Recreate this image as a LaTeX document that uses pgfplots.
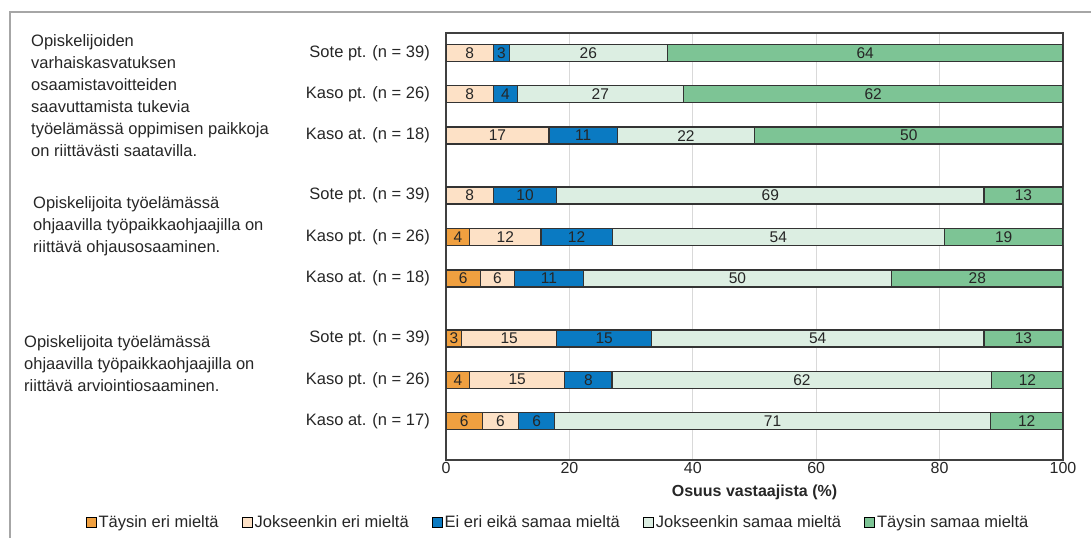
\documentclass[border=0pt]{standalone}
\usepackage{pgfplots}
\usepackage{pgfplotstable}
\pgfplotsset{compat=1.18}
\usepackage{fontspec}
\setmainfont{Liberation Sans}

\definecolor{cTE}{HTML}{F0A040}
\definecolor{cJE}{HTML}{FDE1C6}
\definecolor{cEE}{HTML}{0A7AC2}
\definecolor{cJS}{HTML}{DCEEE2}
\definecolor{cTS}{HTML}{7DC495}
\definecolor{framegray}{HTML}{A6A6A6}
\definecolor{txt}{HTML}{262626}

% shares (%) of each answer, one row per bar; l1..l5 are the printed labels
\pgfplotstableread{
y     v1    v2    v3    v4    v5    l1 l2 l3 l4 l5
0     0     7.69  2.56  25.64 64.10 {} 8  3  26 64
1     0     7.69  3.85  26.92 61.54 {} 8  4  27 62
2     0     16.67 11.11 22.22 50.00 {} 17 11 22 50
3.45  0     7.69  10.26 69.23 12.82 {} 8  10 69 13
4.45  3.85  11.54 11.54 53.85 19.22 4  12 12 54 19
5.45  5.56  5.56  11.11 50.00 27.77 6  6  11 50 28
6.9   2.56  15.38 15.38 53.85 12.82 3  15 15 54 13
7.9   3.85  15.38 7.69  61.54 11.54 4  15 8  62 12
8.9   5.88  5.88  5.88  70.59 11.76 6  6  6  71 12
}\data

\begin{document}
\begin{tikzpicture}
\path[use as bounding box] (0pt,0pt) rectangle (1091pt,538pt);
\draw[framegray, line width=2.5pt] (10pt,0pt) -- (10pt,526pt) -- (1091pt,526pt);

\begin{axis}[
    at={(446pt,78pt)}, anchor=south west,
    scale only axis, width=617pt, height=427pt,
    xbar stacked, bar width=17pt,
    xmin=0, xmax=100, ymin=-0.48, ymax=9.84, y dir=reverse,
    enlargelimits=false,
    xtick={0,20,...,100},
    ytick={0,1,2,3.45,4.45,5.45,6.9,7.9,8.9},
    yticklabels={{Sote pt. (n = 39)},{Kaso pt. (n = 26)},{Kaso at. (n = 18)},
                 {Sote pt. (n = 39)},{Kaso pt. (n = 26)},{Kaso at. (n = 18)},
                 {Sote pt. (n = 39)},{Kaso pt. (n = 26)},{Kaso at. (n = 17)}},
    tick style={draw=none},
    xmajorgrids, grid style={draw=black!15, line width=1.2pt},
    axis line style={draw=black!75, line width=1.6pt},
    /pgf/number format/assume math mode=true,
    ticklabel style={font=\fontsize{16}{19}\selectfont, text=txt},
    yticklabel style={font=\fontsize{16.5}{19}\selectfont, inner sep=0pt, xshift=-16pt},
    xticklabel style={inner sep=0pt, yshift=-2pt},
    xlabel={Osuus vastaajista (\%)},
    xlabel style={at={(axis description cs:0.5,0)}, anchor=center, yshift=-32pt,
                  font=\fontsize{16}{19}\selectfont\bfseries, text=txt},
    every axis plot/.append style={draw=black!80, line width=1.3pt},
    point meta=explicit symbolic,
    nodes near coords,
    every node near coord/.append style={anchor=center, text=txt,
        font=\fontsize{15.5}{18}\selectfont},
    legend columns=5,
    legend style={at={(axis description cs:0.1815,-0.1452)}, anchor=center,
        draw=none, font=\fontsize{16.5}{19}\selectfont, text=txt,
        /tikz/every even column/.append style={column sep=21pt}},
    legend image code/.code={\draw[#1, draw=black, line width=1pt] (0pt,-5pt) rectangle (10pt,5pt);},
]
\addplot[fill=cTE] table[x=v1, y=y, meta=l1] {\data};
\addlegendentry{Täysin eri mieltä}
\addplot[fill=cJE] table[x=v2, y=y, meta=l2] {\data};
\addlegendentry{Jokseenkin eri mieltä}
\addplot[fill=cEE] table[x=v3, y=y, meta=l3] {\data};
\addlegendentry{Ei eri eikä samaa mieltä}
\addplot[fill=cJS] table[x=v4, y=y, meta=l4] {\data};
\addlegendentry{Jokseenkin samaa mieltä}
\addplot[fill=cTS] table[x=v5, y=y, meta=l5] {\data};
\addlegendentry{Täysin samaa mieltä}
\end{axis}

\begin{scope}[every node/.style={anchor=base west, align=left, inner sep=0pt,
    text=txt, font=\fontsize{16.5}{22}\selectfont}]
\node at (31pt,381pt) {Opiskelijoiden\\varhaiskasvatuksen\\osaamistavoitteiden\\saavuttamista tukevia\\työelämässä oppimisen paikkoja\\on riittävästi saatavilla.};
\node at (33pt,285pt) {Opiskelijoita työelämässä\\ohjaavilla työpaikkaohjaajilla on\\riittävä ohjausosaaminen.};
\node at (24pt,146pt) {Opiskelijoita työelämässä\\ohjaavilla työpaikkaohjaajilla on\\riittävä arviointiosaaminen.};
\end{scope}
\end{tikzpicture}
\end{document}
